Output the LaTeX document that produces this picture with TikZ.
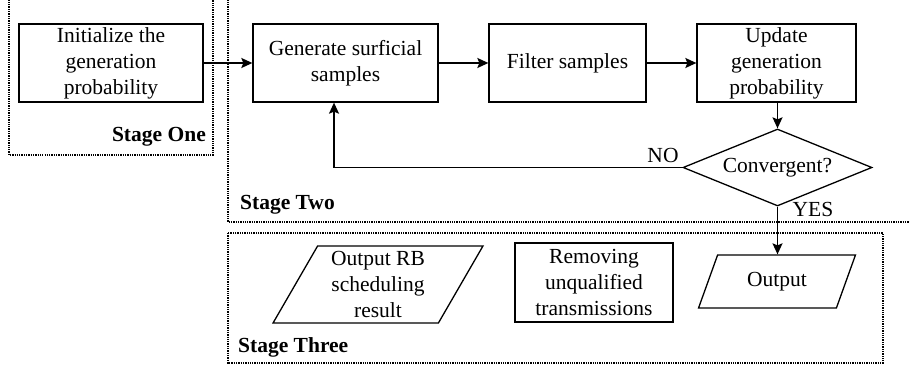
\documentclass[tikz,border=0pt]{standalone}
\usepackage{fontspec}
\setmainfont{Liberation Serif}
\usetikzlibrary{shapes.geometric,arrows.meta}
\begin{document}
\begin{tikzpicture}[x=1pt,y=-1pt,
  every node/.style={font=\fontsize{21.5}{26}\selectfont, inner sep=0pt},
  procbox/.style={draw, line width=1.3pt, rectangle, align=center},
  iobox/.style={draw, line width=1.3pt, trapezium, trapezium stretches=true, align=center},
  stagebox/.style={draw, densely dotted, line width=1.3pt},
  stagelabel/.style={font=\fontsize{21.5}{26}\selectfont\bfseries},
  flow/.style={line width=1.5pt, -{Stealth[length=11pt,width=10pt,inset=2pt]}},
  plain/.style={line width=1.5pt}]
\clip (0,0) rectangle (910,369);
% stage frames
\draw[stagebox] (9,-5) rectangle (213,155);
\draw[stagebox] (228,-5) rectangle (916,222);
\draw[stagebox] (228,233) rectangle (883,363);
\node[stagelabel, anchor=east] (s1) at (206,137) {Stage One};
\node[stagelabel, anchor=west] (s2) at (240,205) {Stage Two};
\node[stagelabel, anchor=west] (s3) at (238,347) {Stage Three};
% stage one and two
\node[procbox, minimum width=184pt, minimum height=78pt] (init) at (111,63) {Initialize the\\generation\\probability};
\node[procbox, minimum width=185pt, minimum height=78pt] (gen) at (345.5,63) {Generate surficial\\samples};
\node[procbox, minimum width=157pt, minimum height=78pt] (filt) at (567.5,63) {Filter samples};
\node[procbox, minimum width=159pt, minimum height=78pt] (upd) at (776.5,63) {Update\\generation\\probability};
\node[draw, line width=1.3pt, diamond, aspect=2.45, minimum width=189pt, minimum height=77pt] (conv) at (777.5,167.5) {Convergent?};
\node (no) at (663,155) {NO};
\node (yes) at (813,209) {YES};
% stage three
\node[iobox, trapezium left angle=62.5, trapezium right angle=117.5, minimum width=210pt, minimum height=77pt] (rb) at (378,284.5) {Output RB\\scheduling\\result};
\node[procbox, minimum width=158pt, minimum height=79pt] (rem) at (594,282.5) {Removing\\unqualified\\transmissions};
\node[iobox, trapezium left angle=63, trapezium right angle=117, minimum width=158pt, minimum height=53pt] (out) at (777,281.5) {Output};
% connectors
\draw[flow] (init) -- (gen);
\draw[flow] (gen) -- (filt);
\draw[flow] (filt) -- (upd);
\draw[flow] (upd.south -| conv.north) -- (conv.north);
\coordinate (fb) at (334,167.5);
\draw[flow] (conv.west) -- (fb) -- (fb |- gen.south);
\draw[flow] (conv.south) -- (conv.south |- out.north);
\end{tikzpicture}
\end{document}
